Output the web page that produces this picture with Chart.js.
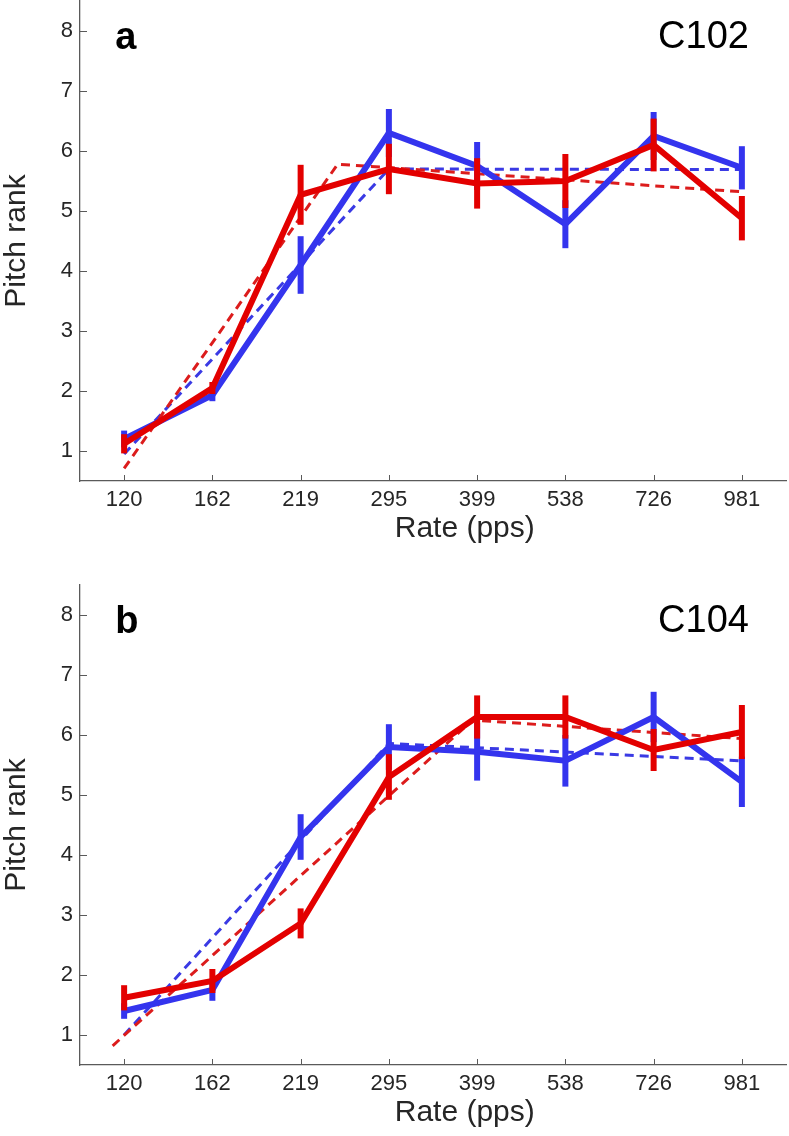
<!DOCTYPE html>
<html>
<head>
<meta charset="utf-8">
<title>Pitch rank vs rate</title>
<script src="https://cdn.jsdelivr.net/npm/chart.js@4.4.0/dist/chart.umd.min.js"></script>
<style>
  body { margin: 0; background: #fff; }
  canvas { display: block; }
</style>
</head>
<body>
<canvas id="chart-a" width="789" height="584"></canvas>
<canvas id="chart-b" width="789" height="552"></canvas>
<script>
// x categories (pps) and y tick values
const rates = ["120", "162", "219", "295", "399", "538", "726", "981"];
const yTicks = [1, 2, 3, 4, 5, 6, 7, 8];

// panel a (C102)
const blueA = [1.2, 1.93, 4.1, 6.3, 5.75, 4.78, 6.25, 5.72];
const blueErrA = [0.14, 0.1, 0.48, 0.4, 0.4, 0.4, 0.4, 0.36];
const redA = [1.12, 2.05, 5.27, 5.7, 5.46, 5.5, 6.1, 4.88];
const redErrA = [0.16, 0.1, 0.5, 0.42, 0.42, 0.45, 0.44, 0.37];
const blueFitXA = [0, 3, 7];
const blueFitA = [0.95, 5.7, 5.69];
const redFitXA = [0, 2.42, 7];
const redFitA = [0.71, 5.78, 5.32];

// panel b (C104)
const blueB = [1.4, 1.75, 4.3, 5.8, 5.72, 5.57, 6.3, 5.22];
const blueErrB = [0.13, 0.18, 0.38, 0.38, 0.48, 0.43, 0.42, 0.42];
const redB = [1.62, 1.9, 2.86, 5.3, 6.3, 6.3, 5.75, 6.05];
const redErrB = [0.21, 0.2, 0.25, 0.38, 0.36, 0.36, 0.35, 0.45];
const blueFitXB = [0, 3, 7];
const blueFitB = [1.0, 5.86, 5.57];
const redFitXB = [-0.13, 3.95, 7];
const redFitB = [0.82, 6.25, 5.94];

const FONT = '"Liberation Sans", Helvetica, Arial, sans-serif';
const BLUE = "#3434ee";
const RED = "#e30000";
const BLUE_FIT = "#3a3ae4";
const RED_FIT = "#dc1c1c";
const AXIS = "#5a5a5a";
const TEXT = "#262626";

function series(vals, errs, color, order) {
  return {
    data: vals.map((v, i) => ({ x: i, y: v })),
    errors: errs,
    borderColor: color,
    borderWidth: 6,
    borderJoinStyle: "miter",
    pointRadius: 0,
    order: order
  };
}

function fit(xs, ys, color, order) {
  return {
    data: xs.map((x, i) => ({ x: x, y: ys[i] })),
    borderColor: color,
    borderWidth: 3,
    borderDash: [9, 6],
    pointRadius: 0,
    order: order
  };
}

// vertical error bars, drawn right after their own line
const errorBars = {
  id: "errorBars",
  afterDatasetDraw(chart, args) {
    const ds = chart.data.datasets[args.index];
    if (!ds.errors) return;
    const { x, y } = chart.scales;
    const ctx = chart.ctx;
    ctx.save();
    ctx.strokeStyle = ds.borderColor;
    ctx.lineWidth = 6;
    ctx.lineCap = "butt";
    ds.data.forEach((p, i) => {
      const px = x.getPixelForValue(p.x);
      ctx.beginPath();
      ctx.moveTo(px, y.getPixelForValue(p.y - ds.errors[i]));
      ctx.lineTo(px, y.getPixelForValue(p.y + ds.errors[i]));
      ctx.stroke();
    });
    ctx.restore();
  }
};

// inward tick marks, x title and panel labels
const frame = {
  id: "frame",
  afterDraw(chart, args, opts) {
    const { ctx, chartArea: ca } = chart;
    const { x, y } = chart.scales;
    ctx.save();
    ctx.strokeStyle = AXIS;
    ctx.lineWidth = 1;
    ctx.beginPath();
    x.ticks.forEach(t => {
      const px = Math.round(x.getPixelForValue(t.value)) + 0.5;
      ctx.moveTo(px, ca.bottom);
      ctx.lineTo(px, ca.bottom - 6);
    });
    y.ticks.forEach(t => {
      const py = Math.round(y.getPixelForValue(t.value)) + 0.5;
      ctx.moveTo(ca.left, py);
      ctx.lineTo(ca.left + 7, py);
    });
    ctx.stroke();

    ctx.fillStyle = TEXT;
    ctx.font = "30px " + FONT;
    ctx.textAlign = "center";
    ctx.textBaseline = "alphabetic";
    ctx.fillText("Rate (pps)", x.getPixelForValue(3.86), ca.bottom + 56);

    ctx.fillStyle = "#000";
    ctx.font = "bold 38px " + FONT;
    ctx.textAlign = "left";
    ctx.fillText(opts.letter, x.getPixelForValue(-0.1), y.getPixelForValue(7.7));
    ctx.font = "38px " + FONT;
    ctx.textAlign = "right";
    ctx.fillText(opts.subject, x.getPixelForValue(7.08), y.getPixelForValue(7.72));
    ctx.restore();
  }
};

function makeChart(id, datasets, letter, subject, padBottom) {
  new Chart(document.getElementById(id), {
    type: "line",
    data: { datasets: datasets },
    options: {
      responsive: false,
      animation: false,
      devicePixelRatio: 1,
      layout: { autoPadding: false, padding: { top: 1, right: 3, left: 0, bottom: padBottom } },
      plugins: {
        legend: { display: false },
        tooltip: { enabled: false },
        frame: { letter: letter, subject: subject }
      },
      scales: {
        x: {
          type: "linear",
          min: -0.5,
          max: 7.5,
          afterBuildTicks: s => { s.ticks = rates.map((_, i) => ({ value: i })); },
          afterFit: s => {
            s.height = 40;
            s.paddingLeft = 0;
            s.paddingRight = 0;
          },
          ticks: {
            callback: v => rates[v],
            font: { size: 22, family: FONT },
            color: TEXT,
            padding: 6,
            maxRotation: 0,
            autoSkip: false
          },
          grid: { display: false, drawTicks: false },
          border: { color: AXIS, width: 1.3 }
        },
        y: {
          type: "linear",
          min: 0.5,
          max: 8.5,
          afterBuildTicks: s => { s.ticks = yTicks.map(v => ({ value: v })); },
          afterFit: s => {
            s.width = 80;
            s.paddingTop = 0;
            s.paddingBottom = 0;
          },
          ticks: {
            font: { size: 22, family: FONT },
            color: TEXT,
            padding: 7
          },
          grid: { display: false, drawTicks: false },
          border: { color: AXIS, width: 1.3 },
          title: {
            display: true,
            text: "Pitch rank",
            font: { size: 30, family: FONT, lineHeight: 1.1 },
            color: TEXT,
            padding: 0
          }
        }
      }
    },
    plugins: [errorBars, frame]
  });
}

makeChart("chart-a", [
  series(redA, redErrA, RED, 0),
  series(blueA, blueErrA, BLUE, 1),
  fit(redFitXA, redFitA, RED_FIT, 2),
  fit(blueFitXA, blueFitA, BLUE_FIT, 3)
], "a", "C102", 584 - 481 - 40);

makeChart("chart-b", [
  series(redB, redErrB, RED, 0),
  series(blueB, blueErrB, BLUE, 1),
  fit(redFitXB, redFitB, RED_FIT, 2),
  fit(blueFitXB, blueFitB, BLUE_FIT, 3)
], "b", "C104", 552 - 481 - 40);
</script>
</body>
</html>
